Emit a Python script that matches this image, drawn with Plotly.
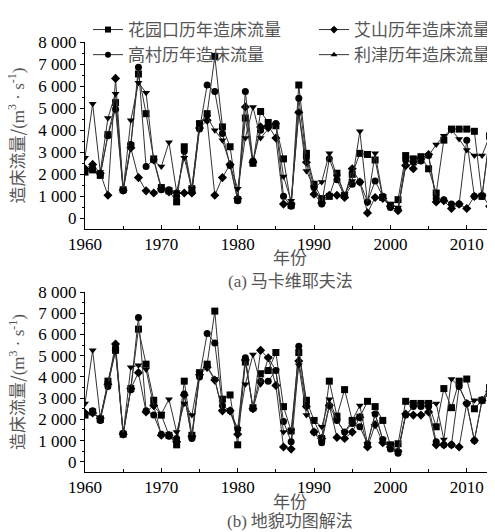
import plotly.graph_objects as go

years = list(range(1960, 2015))

# Panel (a) 马卡维耶夫法
a_hyk = [2100,2200,1950,3800,5250,1300,3300,6550,4750,2700,1400,1250,750,3250,1350,4300,4750,7350,4150,3250,
         850,4550,2500,4850,4350,4200,2700,600,6050,2950,1550,900,1000,2050,1050,2000,2950,2900,2650,950,
         600,850,2850,2700,2800,2250,1150,3550,4050,4050,4050,3950,1000,3750,3600]
a_gc = [2200,2250,2000,3750,4950,1250,3350,6850,2350,2650,1300,1300,1000,3050,1200,4050,6050,5750,3850,2400,
        800,5750,2600,4000,4150,4300,1000,550,5450,2750,1400,650,2700,1750,1000,1550,1650,750,1700,1000,
        500,400,2650,2550,2600,2850,900,850,650,650,3550,1000,1000,3650,3500]
a_as = [2250,2450,2050,1050,6350,1280,3200,1850,1250,1150,1350,1200,1150,1150,1150,4100,4450,1050,1850,2450,
        900,5050,2550,4150,4200,3650,650,650,4800,2550,1100,700,1050,1050,950,2250,1650,250,950,900,
        550,350,2400,2250,2700,2900,750,800,450,650,450,1000,1050,550,500]
a_lj = [2750,5200,2100,4550,5650,1300,4450,6150,5700,2600,2350,3450,1200,2750,1350,4300,4600,4000,3550,2400,
        1350,3650,5050,3650,4050,4250,1900,800,4800,2150,1400,1650,2950,1900,1100,1700,3950,700,2950,1000,
        650,500,2350,2500,2750,2850,3350,3750,4000,3600,3100,2850,2850,3750,3700]

# Panel (b) 地貌功图解法
b_hyk = [2200,2350,2000,3800,5250,1300,3450,6250,4600,2900,2200,1250,800,3800,1250,4200,4600,7100,2950,3150,
         800,4700,2550,4150,4300,5150,2600,1450,5150,2900,1950,1100,3800,2150,3400,1950,2100,2850,2600,1950,
         800,850,2850,2750,2750,2750,1650,3450,2550,3800,3900,2500,2900,3500,3200]
b_gc = [2250,2400,1950,3550,5400,1350,3400,6800,2400,2200,1300,1200,1100,3200,1100,4000,6050,5600,2650,2400,
        1550,4900,2500,3800,3800,4300,1900,950,5450,2650,1400,900,2650,1950,1400,1800,1650,850,2250,1050,
        600,400,2200,2600,2600,2600,950,800,800,3550,2750,1000,2900,3200,1000]
b_as = [2300,2300,2050,3650,5550,1300,3450,4200,2350,2650,1250,1250,950,3150,1200,4100,4450,3850,2400,2400,
        1300,4800,2500,5250,4900,3600,700,600,4750,2600,1400,1100,2650,1150,1100,1400,2100,700,1750,900,
        700,500,2250,2200,2200,2350,800,800,800,700,2750,1000,2900,3300,3200]
b_lj = [2750,5250,2100,3700,5200,1300,4450,4550,4350,2600,2250,2950,1400,2750,2200,4200,4500,3900,2400,2350,
        1550,3650,5050,3650,4900,4300,1400,1450,4550,2200,1950,1650,2950,1950,1400,1950,2650,850,2250,1050,
        800,500,2200,2600,2750,2750,2750,1050,3900,3550,2750,2900,2900,3500,1000]

names = ["花园口历年造床流量", "艾山历年造床流量", "高村历年造床流量", "利津历年造床流量"]
symbols = ["square", "diamond", "circle", "triangle-down"]
legend_symbols = ["square", "diamond", "circle", "triangle-up"]
legend_ids = ["legend", "legend2", "legend", "legend2"]

SERIF = "Liberation Serif, Times New Roman, serif"
SANS = "Noto Sans CJK SC, Noto Sans, sans-serif"
GRAY = "#555555"

fig = go.Figure()

panels = [
    ("x", "y", [a_hyk, a_as, a_gc, a_lj]),
    ("x2", "y2", [b_hyk, b_as, b_gc, b_lj]),
]
for xa, ya, series in panels:
    for i, vals in enumerate(series):
        fig.add_trace(go.Scatter(
            x=years, y=vals, xaxis=xa, yaxis=ya, mode="lines+markers",
            line=dict(color="#333333", width=1),
            marker=dict(symbol=symbols[i], size=7, color="black"),
            showlegend=False, name=names[i], cliponaxis=True))

# legend entries
for i in range(4):
    fig.add_trace(go.Scatter(
        x=[None], y=[None], mode="lines+markers", name=names[i],
        line=dict(color="#333333", width=1),
        marker=dict(symbol=legend_symbols[i], size=6, color="black"),
        legend=legend_ids[i], showlegend=True))

W, H = 495, 532
OFF = 8  # page offset of the figure
L = 85 - OFF
R = OFF
PW = W - L - R
def py(ypx):
    return 1 - (ypx - OFF) / H
def px(xpx):
    return (xpx - OFF - L) / PW

top_dom = [py(229), py(42)]
bot_dom = [py(472), py(292)]
xr = [1960, 2013.7]
yr = [-480, 8000]

def xaxis(anchor):
    return dict(range=xr, anchor=anchor, domain=[0, 1], showline=True, linecolor="black", linewidth=1,
                ticks="inside", ticklen=4, tickcolor="black", dtick=10, tick0=1960, tickformat="d",
                minor=dict(dtick=5, ticklen=3, ticks="inside", tickcolor="black"), automargin=False,
                showgrid=False, zeroline=False, tickfont=dict(family=SERIF, size=17, color="black"))

def yaxis(anchor, dom):
    return dict(range=yr, anchor=anchor, domain=dom, showline=True, linecolor="black", linewidth=1,
                ticks="outside", ticklen=4, tickcolor="black", dtick=1000, tick0=0, tickformat=",d",
                minor=dict(dtick=500, ticklen=2, ticks="outside", tickcolor="black"), automargin=False,
                showgrid=False, zeroline=False, tickfont=dict(family=SERIF, size=17, color="black"))

ytitle = ("造床流量/<span style='font-family:Liberation Serif'>(m<sup>3</sup> · s<sup>-1</sup>)</span>")

annotations = []
for dom, yx in [(top_dom, "y domain"), (bot_dom, "y2 domain")]:
    annotations.append(dict(text=ytitle, textangle=-90, xref="paper", yref=yx, x=px(16), y=0.5,
                            showarrow=False, font=dict(family=SANS, size=17, color=GRAY),
                            xanchor="center", yanchor="middle"))
cx = px(290)
annotations += [
    dict(text="年份", xref="paper", yref="paper", x=cx, y=py(256), showarrow=False,
         font=dict(family=SANS, size=17, color=GRAY), xanchor="center", yanchor="middle"),
    dict(text="<span style='font-family:Liberation Serif'>(a)</span> 马卡维耶夫法", xref="paper", yref="paper",
         x=cx, y=py(279), showarrow=False,
         font=dict(family=SANS, size=17, color=GRAY), xanchor="center", yanchor="middle"),
    dict(text="年份", xref="paper", yref="paper", x=cx, y=py(500), showarrow=False,
         font=dict(family=SANS, size=17, color=GRAY), xanchor="center", yanchor="middle"),
    dict(text="<span style='font-family:Liberation Serif'>(b)</span> 地貌功图解法", xref="paper", yref="paper",
         x=cx, y=py(519), showarrow=False,
         font=dict(family=SANS, size=17, color=GRAY), xanchor="center", yanchor="middle"),
]

leg_common = dict(orientation="v", yanchor="top", xanchor="left", bgcolor="rgba(0,0,0,0)",
                  font=dict(family=SANS, size=17, color=GRAY), tracegroupgap=0, itemwidth=30)

fig.update_layout(
    width=W, height=H, margin=dict(l=L, r=R, t=0, b=0, autoexpand=False),
    plot_bgcolor="white", paper_bgcolor="white",
    separators=". ",
    xaxis=xaxis("y"), yaxis=yaxis("x", top_dom),
    xaxis2=xaxis("y2"), yaxis2=yaxis("x2", bot_dom),
    legend=dict(x=px(88), y=1 - 4 / H, **leg_common),
    legend2=dict(x=px(314), y=1 - 4 / H, **leg_common),
    annotations=annotations,
)

fig.write_html("out.html")
